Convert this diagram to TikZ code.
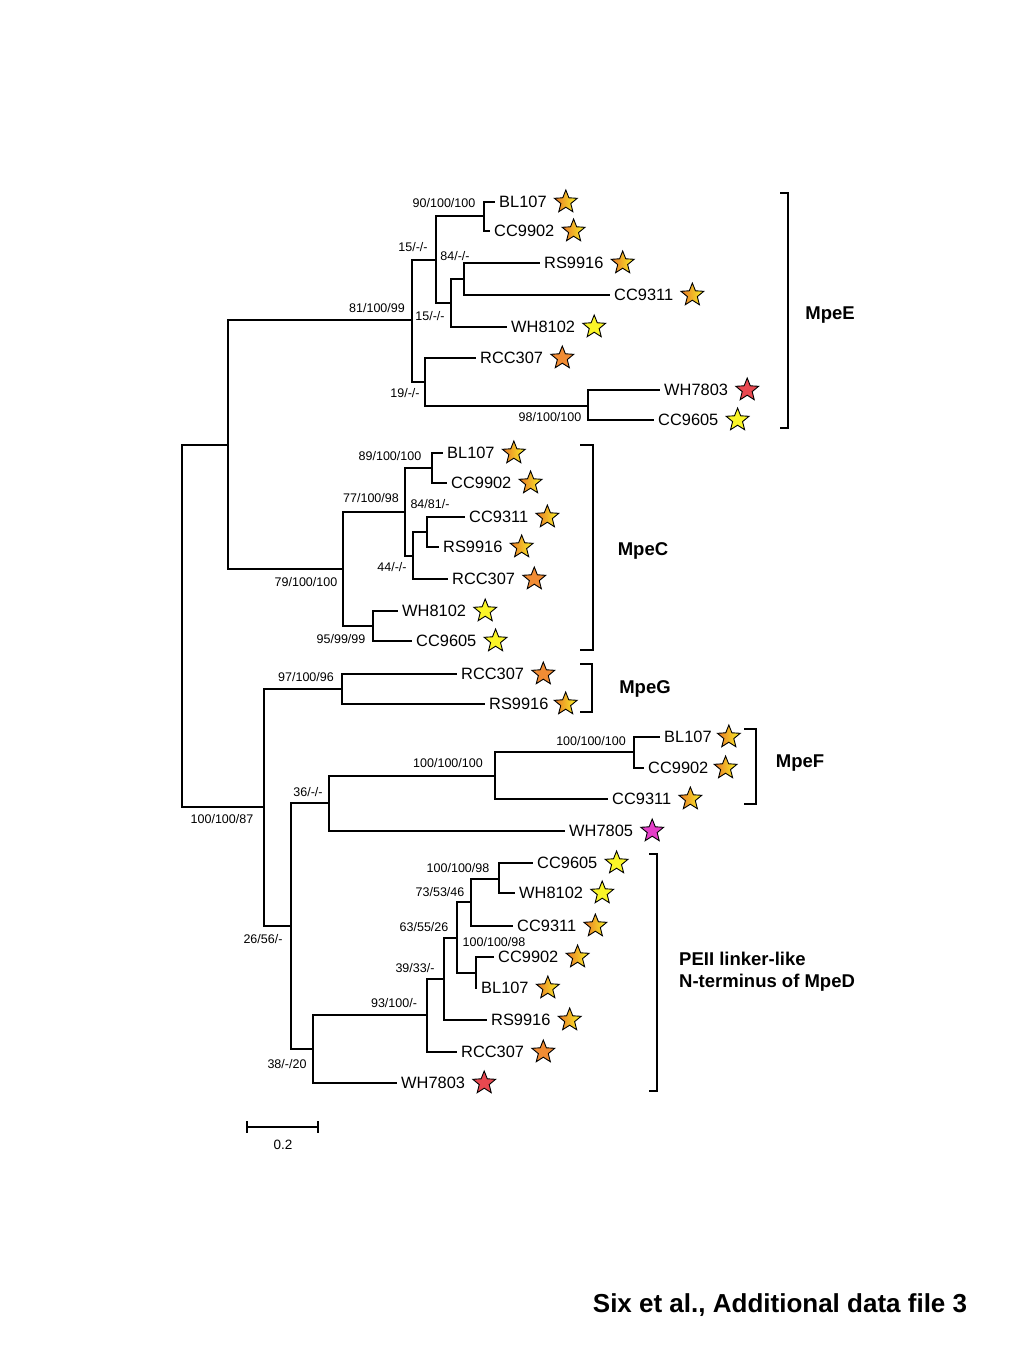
\documentclass[tikz,border=0pt]{standalone}
\usepackage{fontspec}
\setmainfont{Liberation Sans}
\usetikzlibrary{shapes.geometric}

\definecolor{starorange}{RGB}{241,140,52}
\definecolor{stardeep}{RGB}{232,118,40}
\definecolor{staryellow}{RGB}{250,245,40}
\definecolor{starred}{RGB}{232,72,80}
\definecolor{starmagenta}{RGB}{228,62,200}

\tikzset{
    ystar/.style = {fill = staryellow},
    ostar/.style = {fill = starorange},
    rstar/.style = {fill = starred},
    mstar/.style = {fill = starmagenta},
    gstar/.style = {left color = stardeep, right color = staryellow}
}

\begin{document}
\begin{tikzpicture}[x = 1pt, y = -1pt]
        \useasboundingbox (0,0) rectangle (1024,1365);

        % Branching points of the tree.
        \coordinate (root) at (182,626);
        \coordinate (nEC) at (228,445);
        \coordinate (nE)  at (412,320);
        \coordinate (nE1) at (436,260);
        \coordinate (nE2) at (484,216);
        \coordinate (nE3) at (451,303);
        \coordinate (nE4) at (464,279);
        \coordinate (nE5) at (425,382);
        \coordinate (nE6) at (588,406);
        \coordinate (nC)  at (343,569);
        \coordinate (nC1) at (405,512);
        \coordinate (nC2) at (432,468);
        \coordinate (nC3) at (413,556);
        \coordinate (nC4) at (427,532);
        \coordinate (nC5) at (373,626);
        \coordinate (nL)  at (264,807);
        \coordinate (nG)  at (342,689);
        \coordinate (nL2) at (291,926);
        \coordinate (nF)  at (329,803);
        \coordinate (nF1) at (495,776);
        \coordinate (nF2) at (634,752);
        \coordinate (nD)  at (313,1049);
        \coordinate (nD1) at (427,1015);
        \coordinate (nD2) at (444,979);
        \coordinate (nD3) at (457,938);
        \coordinate (nD4) at (471,902);
        \coordinate (nD5) at (499,879);
        \coordinate (nD6) at (476,973);

        \begin{scope}[%
            every node/.style = {%
                anchor = west,
                inner xsep = 4pt,
                inner ysep = 1pt,
                font = \fontsize{16.4}{19}\selectfont
            }
        ]

            % Leaves: MpeE
            \node (eBL107)  at (495,202) {BL107};
            \node (eCC9902) at (490,231) {CC9902};
            \node (eRS9916) at (540,263) {RS9916};
            \node (eCC9311) at (610,295) {CC9311};
            \node (eWH8102) at (507,327) {WH8102};
            \node (eRCC307) at (476,358) {RCC307};
            \node (eWH7803) at (660,390) {WH7803};
            \node (eCC9605) at (654,420) {CC9605};

            % Leaves: MpeC
            \node (cBL107)  at (443,453) {BL107};
            \node (cCC9902) at (447,483) {CC9902};
            \node (cCC9311) at (465,517) {CC9311};
            \node (cRS9916) at (439,547) {RS9916};
            \node (cRCC307) at (448,579) {RCC307};
            \node (cWH8102) at (398,611) {WH8102};
            \node (cCC9605) at (412,641) {CC9605};

            % Leaves: MpeG
            \node (gRCC307) at (457,674) {RCC307};
            \node (gRS9916) at (485,704) {RS9916};

            % Leaves: MpeF and WH7805
            \node (fBL107)  at (660,737) {BL107};
            \node (fCC9902) at (644,768) {CC9902};
            \node (fCC9311) at (608,799) {CC9311};
            \node (fWH7805) at (565,831) {WH7805};

            % Leaves: MpeD
            \node (dCC9605) at (533,863) {CC9605};
            \node (dWH8102) at (515,893) {WH8102};
            \node (dCC9311) at (513,926) {CC9311};
            \node (dCC9902) at (494,957) {CC9902};
            \node (dBL107)  at (477,988) {BL107};
            \node (dRS9916) at (487,1020) {RS9916};
            \node (dRCC307) at (457,1052) {RCC307};
            \node (dWH7803) at (397,1083) {WH7803};
        \end{scope}

        \begin{scope}[line width = 1.1pt]

            % Branches of the tree.
            \draw (root) |- (nEC) (root) |- (nL);
            \draw (nEC) |- (nE) (nEC) |- (nC);
            \draw (nE) |- (nE1) (nE) |- (nE5);
            \draw (nE1) |- (nE2) (nE1) |- (nE3);
            \draw (nE2) |- (eBL107) (nE2) |- (eCC9902);
            \draw (nE3) |- (nE4) (nE3) |- (eWH8102);
            \draw (nE4) |- (eRS9916) (nE4) |- (eCC9311);
            \draw (nE5) |- (eRCC307) (nE5) |- (nE6);
            \draw (nE6) |- (eWH7803) (nE6) |- (eCC9605);
            \draw (nC) |- (nC1) (nC) |- (nC5);
            \draw (nC1) |- (nC2) (nC1) |- (nC3);
            \draw (nC2) |- (cBL107) (nC2) |- (cCC9902);
            \draw (nC3) |- (nC4) (nC3) |- (cRCC307);
            \draw (nC4) |- (cCC9311) (nC4) |- (cRS9916);
            \draw (nC5) |- (cWH8102) (nC5) |- (cCC9605);
            \draw (nL) |- (nG) (nL) |- (nL2);
            \draw (nG) |- (gRCC307) (nG) |- (gRS9916);
            \draw (nL2) |- (nF) (nL2) |- (nD);
            \draw (nF) |- (nF1) (nF) |- (fWH7805);
            \draw (nF1) |- (nF2) (nF1) |- (fCC9311);
            \draw (nF2) |- (fBL107) (nF2) |- (fCC9902);
            \draw (nD) |- (nD1) (nD) |- (dWH7803);
            \draw (nD1) |- (nD2) (nD1) |- (dRCC307);
            \draw (nD2) |- (nD3) (nD2) |- (dRS9916);
            \draw (nD3) |- (nD4) (nD3) |- (nD6);
            \draw (nD4) |- (nD5) (nD4) |- (dCC9311);
            \draw (nD5) |- (dCC9605) (nD5) |- (dWH8102);
            \draw (nD6) |- (dCC9902) (nD6) |- (dBL107);

            % Scale bar.
            \draw (247,1121) -- (247,1133) (247,1127) -- (318,1127) (318,1121) -- (318,1133);

            % Clade brackets.
            \draw (780,193) -| (788,428) -- (780,428);
            \draw (580,445) -| (593,650) -- (580,650);
            \draw (580,664) -| (592,712) -- (580,712);
            \draw (744,729) -| (756,804) -- (744,804);
            \draw (649,854) -| (657,1091) -- (649,1091);
        \end{scope}

        \begin{scope}[%
            every node/.style = {%
                star,
                star points = 5,
                star point ratio = 2.3,
                minimum size = 24pt,
                inner sep = 0pt,
                draw,
                line width = 0.9pt
            }
        ]

            % Pigment stars.
            \node [gstar] (sE1) at ([xshift=15pt]eBL107.east) {};
            \node [gstar] (sE2) at ([xshift=15pt]eCC9902.east) {};
            \node [gstar] (sE3) at ([xshift=15pt]eRS9916.east) {};
            \node [gstar] (sE4) at ([xshift=15pt]eCC9311.east) {};
            \node [ystar] (sE5) at ([xshift=15pt]eWH8102.east) {};
            \node [ostar] (sE6) at ([xshift=15pt]eRCC307.east) {};
            \node [rstar] (sE7) at ([xshift=15pt]eWH7803.east) {};
            \node [ystar] (sE8) at ([xshift=15pt]eCC9605.east) {};
            \node [gstar] (sC1) at ([xshift=15pt]cBL107.east) {};
            \node [gstar] (sC2) at ([xshift=15pt]cCC9902.east) {};
            \node [gstar] (sC3) at ([xshift=15pt]cCC9311.east) {};
            \node [gstar] (sC4) at ([xshift=15pt]cRS9916.east) {};
            \node [ostar] (sC5) at ([xshift=15pt]cRCC307.east) {};
            \node [ystar] (sC6) at ([xshift=15pt]cWH8102.east) {};
            \node [ystar] (sC7) at ([xshift=15pt]cCC9605.east) {};
            \node [ostar] (sG1) at ([xshift=15pt]gRCC307.east) {};
            \node [gstar] (sG2) at ([xshift=13pt]gRS9916.east) {};
            \node [gstar] (sF1) at ([xshift=13pt]fBL107.east) {};
            \node [gstar] (sF2) at ([xshift=13pt]fCC9902.east) {};
            \node [gstar] (sF3) at ([xshift=15pt]fCC9311.east) {};
            \node [mstar] (sF4) at ([xshift=15pt]fWH7805.east) {};
            \node [ystar] (sD1) at ([xshift=15pt]dCC9605.east) {};
            \node [ystar] (sD2) at ([xshift=15pt]dWH8102.east) {};
            \node [gstar] (sD3) at ([xshift=15pt]dCC9311.east) {};
            \node [gstar] (sD4) at ([xshift=15pt]dCC9902.east) {};
            \node [gstar] (sD5) at ([xshift=15pt]dBL107.east) {};
            \node [gstar] (sD6) at ([xshift=15pt]dRS9916.east) {};
            \node [ostar] (sD7) at ([xshift=15pt]dRCC307.east) {};
            \node [rstar] (sD8) at ([xshift=15pt]dWH7803.east) {};
        \end{scope}

        \begin{scope}[%
            every node/.style = {%
                inner sep = 0pt,
                font = \fontsize{12.5}{14}\selectfont
            }
        ]

            % Bootstrap values.
            \node (bE)  at (377,308) {81/100/99};
            \node (bE1) at (413,247) {15/-/-};
            \node (bE2) at (444,203) {90/100/100};
            \node (bE3) at (430,316) {15/-/-};
            \node (bE4) at (455,256) {84/-/-};
            \node (bE5) at (405,393) {19/-/-};
            \node (bE6) at (550,417) {98/100/100};
            \node (bC)  at (306,582) {79/100/100};
            \node (bC1) at (371,498) {77/100/98};
            \node (bC2) at (390,456) {89/100/100};
            \node (bC3) at (392,567) {44/-/-};
            \node (bC4) at (430,504) {84/81/-};
            \node (bC5) at (341,639) {95/99/99};
            \node (bL)  at (222,819) {100/100/87};
            \node (bG)  at (306,677) {97/100/96};
            \node (bL2) at (263,939) {26/56/-};
            \node (bF)  at (308,792) {36/-/-};
            \node (bF1) at (448,763) {100/100/100};
            \node (bF2) at (591,741) {100/100/100};
            \node (bD)  at (287,1064) {38/-/20};
            \node (bD1) at (394,1003) {93/100/-};
            \node (bD2) at (415,968) {39/33/-};
            \node (bD3) at (424,927) {63/55/26};
            \node (bD4) at (440,892) {73/53/46};
            \node (bD5) at (458,868) {100/100/98};
            \node (bD6) at (494,942) {100/100/98};
            \node [font = \fontsize{13.5}{15}\selectfont] (scale) at (283,1145) {0.2};
        \end{scope}

        \begin{scope}[%
            every node/.style = {%
                inner sep = 0pt,
                font = \fontsize{18.5}{22}\selectfont\bfseries
            }
        ]

            % Clade names and caption.
            \node (mpeE) at (830,315) {MpeE};
            \node (mpeC) at (643,551) {MpeC};
            \node (mpeG) at (645,689) {MpeG};
            \node (mpeF) at (800,763) {MpeF};
            \node [anchor = west, align = left] (mpeD) at (679,972) {PEII linker-like\\N-terminus of MpeD};
            \node [font = \fontsize{26}{30}\selectfont\bfseries] (caption) at (780,1305) {Six et al., Additional data file 3};
        \end{scope}
    \end{tikzpicture}
\end{document}
